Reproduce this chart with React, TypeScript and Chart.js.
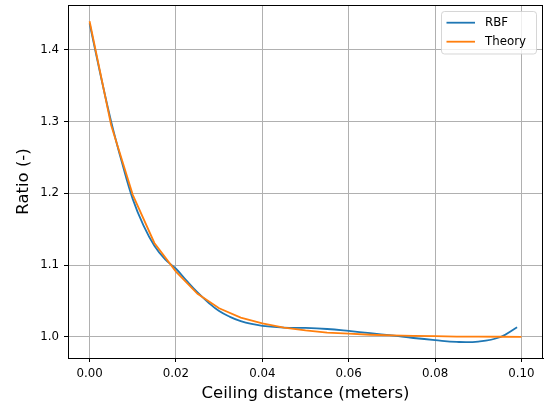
import React, { useEffect, useRef } from "react";
import { Chart, registerables } from "chart.js";

Chart.register(...registerables);

const theoryX = [0, 0.005, 0.01, 0.015, 0.02, 0.025, 0.03, 0.035, 0.04, 0.045, 0.05, 0.055, 0.06, 0.065, 0.07, 0.075, 0.08, 0.085, 0.09, 0.095, 0.1];
const theoryY = [1.44, 1.295, 1.198, 1.131, 1.091, 1.06, 1.04, 1.027, 1.019, 1.013, 1.009, 1.006, 1.0045, 1.003, 1.002, 1.0015, 1.001, 1.0005, 1.0003, 1.0002, 1.0001];

const rbfX = [0, 0.0025, 0.005, 0.0075, 0.01, 0.0125, 0.015, 0.0175, 0.02, 0.0225, 0.025, 0.0275, 0.03, 0.0325, 0.035, 0.0375, 0.04, 0.045, 0.05, 0.055, 0.06, 0.065, 0.07, 0.075, 0.08, 0.085, 0.09, 0.095, 0.099];
const rbfY = [1.437, 1.366, 1.3, 1.243, 1.192, 1.155, 1.127, 1.108, 1.095, 1.078, 1.062, 1.048, 1.036, 1.028, 1.022, 1.018, 1.0155, 1.013, 1.0125, 1.011, 1.0083, 1.0052, 1.002, 0.9985, 0.9955, 0.993, 0.9935, 0.9995, 1.0135];

const xTicks = [0, 0.02, 0.04, 0.06, 0.08, 0.1];
const yTicks = [1.0, 1.1, 1.2, 1.3, 1.4];

const seriesLabels = ["RBF", "Theory"];
const seriesColors = ["#1f77b4", "#ff7f0e"];

const FONT = "'DejaVu Sans', sans-serif";

const framePlugin = {
  id: "frameAndLegend",
  afterDraw(chart: any) {
    const { ctx, chartArea } = chart;
    ctx.save();
    ctx.strokeStyle = "#000";
    ctx.lineWidth = 1;
    ctx.strokeRect(
      Math.round(chartArea.left) + 0.5,
      Math.round(chartArea.top) + 0.5,
      Math.round(chartArea.right) - Math.round(chartArea.left) - 1,
      Math.round(chartArea.bottom) - Math.round(chartArea.top)
    );
    const bx = 441.5, by = 11.5, bw = 95, bh = 42.5, r = 3;
    ctx.beginPath();
    ctx.moveTo(bx + r, by);
    ctx.lineTo(bx + bw - r, by);
    ctx.quadraticCurveTo(bx + bw, by, bx + bw, by + r);
    ctx.lineTo(bx + bw, by + bh - r);
    ctx.quadraticCurveTo(bx + bw, by + bh, bx + bw - r, by + bh);
    ctx.lineTo(bx + r, by + bh);
    ctx.quadraticCurveTo(bx, by + bh, bx, by + bh - r);
    ctx.lineTo(bx, by + r);
    ctx.quadraticCurveTo(bx, by, bx + r, by);
    ctx.closePath();
    ctx.fillStyle = "rgba(255,255,255,0.8)";
    ctx.fill();
    ctx.strokeStyle = "rgba(204,204,204,0.8)";
    ctx.lineWidth = 1;
    ctx.stroke();
    const ds = chart.data.datasets;
    const rows = [22.7, 41.7];
    ds.forEach((d: any, i: number) => {
      const y = rows[i];
      ctx.strokeStyle = d.borderColor;
      ctx.lineWidth = 1.8;
      ctx.beginPath();
      ctx.moveTo(446.5, y);
      ctx.lineTo(475, y);
      ctx.stroke();
      ctx.fillStyle = "#000";
      ctx.font = `11.8px ${FONT}`;
      ctx.textBaseline = "middle";
      ctx.textAlign = "left";
      ctx.fillText(d.label, 485, y);
    });
    ctx.restore();
  },
};

export default function App() {
  const ref = useRef<HTMLCanvasElement | null>(null);
  useEffect(() => {
    document.body.style.margin = "0";
    const canvas = ref.current!;
    const chart = new Chart(canvas, {
      type: "line",
      data: {
        datasets: [
          {
            label: seriesLabels[0],
            data: rbfX.map((x, i) => ({ x, y: rbfY[i] })),
            borderColor: seriesColors[0],
            backgroundColor: seriesColors[0],
            borderWidth: 1.8,
            pointRadius: 0,
            tension: 0.4,
            fill: false,
            order: 1,
          },
          {
            label: seriesLabels[1],
            data: theoryX.map((x, i) => ({ x, y: theoryY[i] })),
            borderColor: seriesColors[1],
            backgroundColor: seriesColors[1],
            borderWidth: 1.8,
            pointRadius: 0,
            tension: 0,
            fill: false,
            order: 0,
          },
        ],
      },
      options: {
        animation: false,
        responsive: false,
        maintainAspectRatio: false,
        layout: { padding: { top: 5, right: 2, left: 0, bottom: 0 } },
        plugins: { legend: { display: false }, tooltip: { enabled: false } },
        scales: {
          x: {
            type: "linear",
            min: -0.005,
            max: 0.105,
            afterFit: (s: any) => { s.height = 51; s.paddingLeft = 0; s.paddingRight = 0; },
            afterBuildTicks: (s: any) => { s.ticks = xTicks.map((v) => ({ value: v })); },
            grid: { color: "#b0b0b0", lineWidth: 1, tickColor: "#000", tickLength: 4, drawTicks: true },
            border: { display: true, color: "#000", width: 1 },
            ticks: {
              color: "#000",
              font: { family: FONT, size: 11.8 },
              padding: 5,
              maxRotation: 0,
              callback: (v: any) => Number(v).toFixed(2),
            },
            title: {
              display: true,
              text: "Ceiling distance (meters)",
              color: "#000",
              font: { family: FONT, size: 16.5 },
              padding: { top: 0, bottom: 5 },
            },
          },
          y: {
            type: "linear",
            min: 0.9706,
            max: 1.4626,
            afterFit: (s: any) => { s.width = 68; s.paddingTop = 0; s.paddingBottom = 0; },
            afterBuildTicks: (s: any) => { s.ticks = yTicks.map((v) => ({ value: v })); },
            grid: { color: "#b0b0b0", lineWidth: 1, tickColor: "#000", tickLength: 4, drawTicks: true },
            border: { display: true, color: "#000", width: 1 },
            ticks: {
              color: "#000",
              font: { family: FONT, size: 11.8 },
              padding: 5,
              callback: (v: any) => Number(v).toFixed(1),
            },
            title: {
              display: true,
              text: "Ratio (-)",
              color: "#000",
              font: { family: FONT, size: 16.5 },
              padding: { top: 14, bottom: 0 },
            },
          },
        },
      },
      plugins: [framePlugin],
    });
    return () => chart.destroy();
  }, []);
  return (
    <div style={{ width: 545, height: 409 }}>
      <canvas ref={ref} width={545} height={409} style={{ display: "block", width: 545, height: 409 }} />
    </div>
  );
}
